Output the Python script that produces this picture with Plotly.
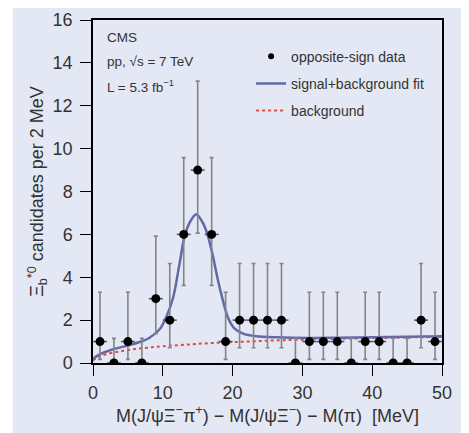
import plotly.graph_objects as go

# ---- data ----
bin_centers = [1, 3, 5, 7, 9, 11, 13, 15, 17, 19, 21, 23, 25, 27, 29, 31, 33, 35, 37, 39, 41, 43, 45, 47, 49]
counts      = [1, 0, 1, 0, 3, 2, 6, 9, 6, 1, 2, 2, 2, 2, 0, 1, 1, 1, 0, 1, 1, 0, 0, 2, 1]
err_hi      = [2.30, 1.15, 2.30, 1.15, 2.92, 2.64, 3.58, 4.15, 3.58, 2.30, 2.64, 2.64, 2.64, 2.64,
               1.15, 2.30, 2.30, 2.30, 1.15, 2.30, 2.30, 1.15, 1.15, 2.64, 2.30]
err_lo      = [0.83, 0.0, 0.83, 0.0, 1.63, 1.29, 2.38, 2.94, 2.38, 0.83, 1.29, 1.29, 1.29, 1.29,
               0.0, 0.83, 0.83, 0.83, 0.0, 0.83, 0.83, 0.0, 0.0, 1.29, 0.83]
bin_half_width = 1.0

fit_x = [0, 1, 2.9, 4.8, 6.7, 8.1, 9.6, 10.5, 11.5, 12.4, 13.1, 13.9, 14.8,
         15.8, 16.5, 17.2, 17.9, 18.6, 19.3, 20.3, 21.5, 23.4, 26.3, 31, 35, 40, 45, 50]
fit_y = [0.20, 0.41, 0.64, 0.80, 0.98, 1.18, 1.60, 2.15, 3.08, 4.64, 5.88, 6.58, 6.94,
         6.50, 5.88, 4.95, 3.86, 2.93, 2.15, 1.60, 1.37, 1.25, 1.20, 1.17, 1.18, 1.20, 1.22, 1.25]

bkg_x = [0, 1, 2, 4, 6, 8, 10, 14, 18, 22, 26, 30, 35, 40, 45, 50]
bkg_y = [0.12, 0.32, 0.42, 0.55, 0.65, 0.72, 0.78, 0.87, 0.95, 1.00, 1.05, 1.09, 1.13, 1.16, 1.19, 1.22]

x_ticks = [0, 10, 20, 30, 40, 50]
y_ticks = [0, 2, 4, 6, 8, 10, 12, 14, 16]

BG = "#e4e8f4"
FONT = "Liberation Sans, Arial, sans-serif"

fig = go.Figure()

fig.add_trace(go.Scatter(
    x=bkg_x, y=bkg_y, mode="lines", name="background",
    line=dict(color="#e8473c", width=2, dash="dot", shape="spline"),
    showlegend=False,
))
fig.add_trace(go.Scatter(
    x=fit_x, y=fit_y, mode="lines", name="signal+background fit",
    line=dict(color="#6169a8", width=2.5, shape="spline", smoothing=0.8),
    showlegend=False,
))
fig.add_trace(go.Scatter(
    x=bin_centers, y=counts, mode="markers", name="opposite-sign data",
    marker=dict(color="black", size=9),
    error_y=dict(type="data", symmetric=False, array=err_hi, arrayminus=err_lo,
                 color="#858585", thickness=1.6, width=2),
    error_x=dict(type="constant", value=bin_half_width, color="#555555", thickness=1.5, width=0),
    showlegend=False, cliponaxis=True,
))

# legend-only entries
fig.add_trace(go.Scatter(x=[None], y=[None], mode="markers", name="opposite-sign data",
                         marker=dict(color="black", size=6), legendgroup="a"))
fig.add_trace(go.Scatter(x=[None], y=[None], mode="lines", name="signal+background fit",
                         line=dict(color="#6169a8", width=2.5), legendgroup="b"))
fig.add_trace(go.Scatter(x=[None], y=[None], mode="lines", name="background",
                         line=dict(color="#e8473c", width=2, dash="dot"), legendgroup="c"))

axis_common = dict(
    showgrid=False, zeroline=False, showline=True, linecolor="black", linewidth=1.5,
    mirror=True, ticks="outside", ticklen=11, tickwidth=1.3, tickcolor="black",
    tickfont=dict(family=FONT, size=18, color="#333333"), automargin=False,
)

fig.update_xaxes(range=[0, 50], tickvals=x_ticks, **axis_common, ticklabelstandoff=2,
                 title=dict(text="M(J/ψΞ<sup>−</sup>π<sup>+</sup>) − M(J/ψΞ<sup>−</sup>) − M(π)  [MeV]",
                            font=dict(family=FONT, size=18, color="#333333"), standoff=4))
fig.update_yaxes(range=[0, 16], tickvals=y_ticks, **axis_common, ticklabelstandoff=4,
                 title=dict(text="Ξ<sub>b</sub><sup>*0</sup> candidates per 2 MeV",
                            font=dict(family=FONT, size=18, color="#333333"), standoff=4))

for i, t in enumerate(["CMS", "pp, √s = 7 TeV", "L = 5.3 fb<sup>−1</sup>"]):
    fig.add_annotation(xref="paper", yref="paper", x=0.033, y=0.95 - i * 0.071,
                       text=t, showarrow=False, xanchor="left", yanchor="middle",
                       font=dict(family=FONT, size=13.5, color="#333333"))

# page background (white strip at left edge)
fig.add_shape(type="rect", xref="paper", yref="paper", x0=-0.23, x1=1.2, y0=-0.4, y1=1.2,
              fillcolor=BG, line=dict(width=0), layer="below")

fig.update_layout(
    width=469, height=433,
    margin=dict(l=85, r=35, t=12, b=78),
    paper_bgcolor="white", plot_bgcolor=BG,
    legend=dict(x=0.453, y=0.94, xanchor="left", yanchor="top", bgcolor="rgba(0,0,0,0)",
                font=dict(family=FONT, size=14, color="#333333"), tracegroupgap=6,
                itemwidth=30),
    font=dict(family=FONT),
)

fig.write_html("out.html")
